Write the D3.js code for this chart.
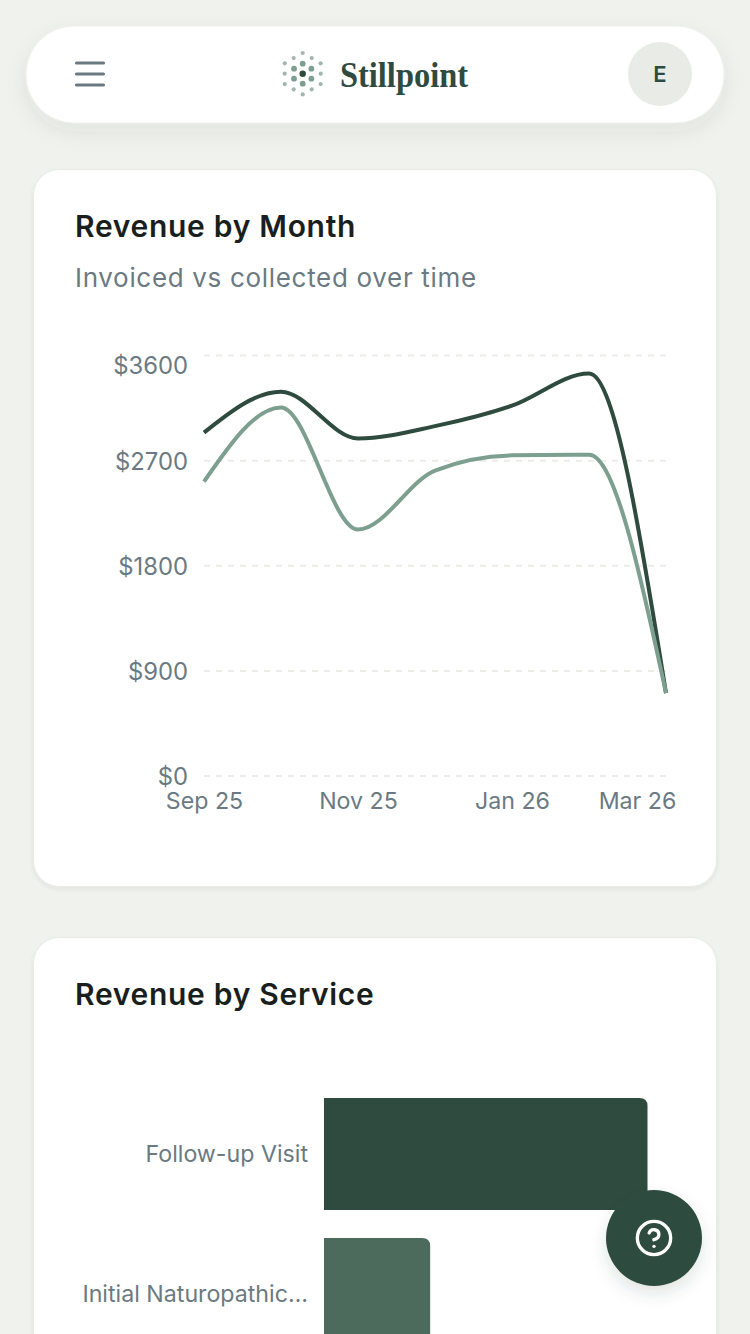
<!DOCTYPE html>
<html>
<head>
<meta charset="utf-8">
<title>Revenue</title>
<script src="https://cdn.jsdelivr.net/npm/d3@7"></script>
<style>
html, body { margin: 0; padding: 0; background: #f0f2ed; overflow: hidden; }
svg { display: block; font-family: Inter, sans-serif; }
.axis path, .axis line { display: none; }
.axis text { font-family: Inter, sans-serif; font-size: 23.2px; fill: #6b7a82; }
.y-axis text { font-size: 23.8px; }
</style>
</head>
<body>
<div id="page"></div>
<script>
// Chart data
var months = ['Sep 25', 'Oct 25', 'Nov 25', 'Dec 25', 'Jan 26', 'Feb 26', 'Mar 26']
var invoiced = [2940, 3290, 2890, 2995, 3170, 3445, 710]
var collected = [2520, 3155, 2110, 2615, 2745, 2750, 710]
var yTicks = [0, 900, 1800, 2700, 3600]
var xTicks = ['Sep 25', 'Nov 25', 'Jan 26', 'Mar 26']

var services = ['Follow-up Visit', 'Initial Naturopathic…']
var serviceRevenue = [9600, 3150]
var serviceColors = ['#2f4b3f', '#4d6b5c']

var logoOuterRadius = [20.7, 18]
var logoInnerRadius = 10

var svgWidth = 750
var svgHeight = 1334

var svg = d3.select('#page')
      .append('svg')
      .attr('width', svgWidth)
      .attr('height', svgHeight)

var defs = svg.append('defs')

var headerShadow = defs.append('filter')
      .attr('id', 'headerShadow')
      .attr('x', '-10%').attr('y', '-30%').attr('width', '120%').attr('height', '170%')
headerShadow.append('feDropShadow')
      .attr('dx', 0).attr('dy', 8).attr('stdDeviation', 10)
      .attr('flood-color', '#2f4b3f').attr('flood-opacity', 0.08)

var cardShadow = defs.append('filter')
      .attr('id', 'cardShadow')
      .attr('x', '-5%').attr('y', '-5%').attr('width', '110%').attr('height', '110%')
cardShadow.append('feDropShadow')
      .attr('dx', 0).attr('dy', 2).attr('stdDeviation', 2)
      .attr('flood-color', '#2f4b3f').attr('flood-opacity', 0.08)

var fabShadow = defs.append('filter')
      .attr('id', 'fabShadow')
      .attr('x', '-30%').attr('y', '-30%').attr('width', '160%').attr('height', '170%')
fabShadow.append('feDropShadow')
      .attr('dx', 0).attr('dy', 8).attr('stdDeviation', 8)
      .attr('flood-color', '#2f4b3f').attr('flood-opacity', 0.14)

// Cards
function card(y, height) {
      svg.append('rect')
            .attr('x', 33.5).attr('y', y)
            .attr('width', 683).attr('height', height)
            .attr('rx', 26)
            .attr('fill', '#fff')
            .attr('stroke', '#e9ece6')
            .attr('filter', 'url(#cardShadow)')
}
card(169.5, 717)
card(937.5, 500)

// Header bar
var header = svg.append('g')
header.append('rect')
      .attr('x', 26).attr('y', 26)
      .attr('width', 698).attr('height', 97)
      .attr('rx', 48)
      .attr('fill', '#fff')
      .attr('stroke', '#eef0eb')
      .attr('filter', 'url(#headerShadow)')

header.selectAll('line.menu')
      .data([63, 74, 85])
      .enter()
      .append('line')
      .attr('class', 'menu')
      .attr('x1', 76.5).attr('x2', 103.5)
      .attr('y1', d => d).attr('y2', d => d)
      .attr('stroke', '#6b7a82')
      .attr('stroke-width', 3.2)
      .attr('stroke-linecap', 'round')

// Logo: centre dot, ring of six, ring of twelve
var logo = header.append('g').attr('transform', 'translate(302.7, 73.7)')
var polar = (r, deg) => [r * Math.sin(deg * Math.PI / 180), -r * Math.cos(deg * Math.PI / 180)]

logo.selectAll('circle.outer')
      .data(d3.range(0, 360, 30))
      .enter()
      .append('circle')
      .attr('class', 'outer')
      .attr('cx', d => polar(logoOuterRadius[d % 60 ? 1 : 0], d)[0])
      .attr('cy', d => polar(logoOuterRadius[d % 60 ? 1 : 0], d)[1])
      .attr('r', 2.1)
      .attr('fill', '#a3b6ad')

logo.selectAll('circle.inner')
      .data(d3.range(0, 360, 60))
      .enter()
      .append('circle')
      .attr('class', 'inner')
      .attr('cx', d => polar(logoInnerRadius, d)[0])
      .attr('cy', d => polar(logoInnerRadius, d)[1])
      .attr('r', 2.9)
      .attr('fill', '#7d9f90')

logo.append('circle').attr('r', 3.2).attr('fill', '#2f4b3f')

header.append('text')
      .attr('x', 340).attr('y', 87)
      .attr('textLength', 128)
      .attr('lengthAdjust', 'spacingAndGlyphs')
      .style('font-family', '"Liberation Serif", serif')
      .style('font-weight', 700)
      .style('font-size', '36px')
      .style('fill', '#2f4b3f')
      .text('Stillpoint')

header.append('circle')
      .attr('cx', 660).attr('cy', 74).attr('r', 32)
      .attr('fill', '#e9ece6')
header.append('text')
      .attr('x', 660).attr('y', 82)
      .attr('text-anchor', 'middle')
      .style('font-size', '22px')
      .style('font-weight', 600)
      .style('fill', '#2f4b3f')
      .text('E')

// Revenue by Month
svg.append('text')
      .attr('x', 75).attr('y', 237)
      .style('font-size', '30px')
      .style('font-weight', 600)
      .style('letter-spacing', '0.7px')
      .style('fill', '#1a1f1d')
      .text('Revenue by Month')

svg.append('text')
      .attr('x', 75).attr('y', 287)
      .style('font-size', '26px')
      .style('letter-spacing', '0.68px')
      .style('fill', '#6b7a82')
      .text('Invoiced vs collected over time')

var xScale = d3.scalePoint()
      .domain(months)
      .range([204, 666])

var yScale = d3.scaleLinear()
      .domain([0, 3600])
      .range([776, 355.5])

svg.append('g')
      .selectAll('line')
      .data(yTicks)
      .enter()
      .append('line')
      .attr('x1', 204).attr('x2', 666)
      .attr('y1', d => yScale(d)).attr('y2', d => yScale(d))
      .attr('stroke', '#ecede8')
      .attr('stroke-width', 2)
      .attr('stroke-dasharray', '6 6')

var leftAxis = d3.axisLeft(yScale)
      .tickValues(yTicks)
      .tickFormat(d => '$' + d)
      .tickSize(0)
      .tickPadding(0)

var yAxisGroup = svg.append('g')
      .attr('class', 'axis y-axis')
      .attr('transform', 'translate(188, 0)')
      .call(leftAxis)

// Top label sits lower than its gridline in the reference
yAxisGroup.selectAll('.tick text')
      .attr('dy', d => d === 3600 ? '0.74em' : '0.36em')

var bottomAxis = d3.axisBottom(xScale)
      .tickValues(xTicks)
      .tickSize(0)
      .tickPadding(0)

var xAxisGroup = svg.append('g')
      .attr('class', 'axis')
      .attr('transform', 'translate(0, 793)')
      .call(bottomAxis)

// Last label is pulled back inside the card
xAxisGroup.selectAll('.tick text')
      .attr('dx', d => d === 'Mar 26' ? -29 : 0)
      .attr('dy', '0.71em')

var line = d3.line()
      .x((d, i) => xScale(months[i]))
      .y(d => yScale(d))
      .curve(d3.curveMonotoneX)

svg.append('path')
      .attr('d', line(invoiced))
      .attr('fill', 'none')
      .attr('stroke', '#2f4b3f')
      .attr('stroke-width', 4)

svg.append('path')
      .attr('d', line(collected))
      .attr('fill', 'none')
      .attr('stroke', '#7d9f90')
      .attr('stroke-width', 4)

// Revenue by Service
svg.append('text')
      .attr('x', 75).attr('y', 1005)
      .style('font-size', '30px')
      .style('font-weight', 600)
      .style('letter-spacing', '0.7px')
      .style('fill', '#1a1f1d')
      .text('Revenue by Service')

var barX = d3.scaleLinear()
      .domain([0, 9600])
      .range([324, 647.5])

var barY = d3.scaleBand()
      .domain(services)
      .range([1084, 1364])
      .paddingInner(0.2)
      .paddingOuter(0.1)

// Bars have rounded right corners only
function barPath(d, i) {
      var x0 = barX(0), x1 = barX(serviceRevenue[i]), y0 = barY(d), h = barY.bandwidth(), r = 8
      var p = d3.path()
      p.moveTo(x0, y0)
      p.lineTo(x1 - r, y0)
      p.quadraticCurveTo(x1, y0, x1, y0 + r)
      p.lineTo(x1, y0 + h)
      p.lineTo(x0, y0 + h)
      p.closePath()
      return p.toString()
}

svg.append('g')
      .selectAll('path')
      .data(services)
      .enter()
      .append('path')
      .attr('d', barPath)
      .attr('fill', (d, i) => serviceColors[i])

var serviceAxis = d3.axisLeft(barY)
      .tickSize(0)
      .tickPadding(0)

svg.append('g')
      .attr('class', 'axis')
      .attr('transform', 'translate(308, 1)')
      .call(serviceAxis)

// Help button
var fab = svg.append('g').attr('transform', 'translate(654, 1238)')
fab.append('circle')
      .attr('r', 48)
      .attr('fill', '#2f4b3f')
      .attr('filter', 'url(#fabShadow)')

var helpIcon = fab.append('g')
      .attr('transform', 'translate(-20, -20) scale(1.667)')
      .attr('fill', 'none')
      .attr('stroke', '#fff')
      .attr('stroke-width', 2)
      .attr('stroke-linecap', 'round')
      .attr('stroke-linejoin', 'round')
helpIcon.append('circle').attr('cx', 12).attr('cy', 12).attr('r', 10)
helpIcon.append('path').attr('d', 'M9.09 9a3 3 0 0 1 5.83 1c0 2-3 3-3 3')
helpIcon.append('path').attr('d', 'M12 17h.01')
</script>
</body>
</html>
